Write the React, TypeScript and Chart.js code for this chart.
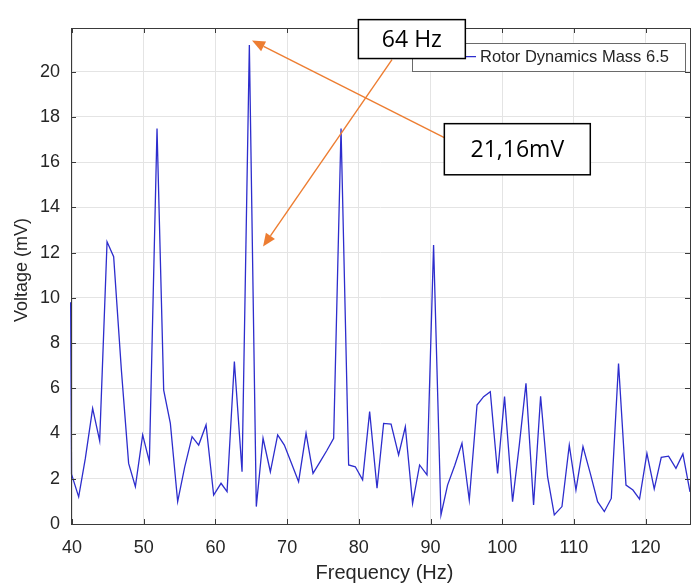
import React, { useEffect, useRef } from "react";
import { Chart, registerables } from "chart.js";
Chart.register(...registerables);

// ---- data ----
const frequencyHz = [
  39.8, 39.92, 40.92, 41.85, 42.87, 43.85, 44.88, 45.8, 46.88, 47.89,
  48.83, 49.85, 50.78, 51.85, 52.78, 53.71, 54.73, 55.7, 56.74, 57.66,
  58.69, 59.75, 60.78, 61.62, 62.64, 63.71, 64.73, 65.7, 66.64, 67.66,
  68.68, 69.61, 70.59, 71.6, 72.64, 73.61, 74.59, 75.54, 76.49, 77.52,
  78.58, 79.51, 80.53, 81.51, 82.54, 83.46, 84.5, 85.55, 86.49, 87.5,
  88.48, 89.51, 90.43, 91.46, 92.38, 93.39, 94.39, 95.41, 96.49, 97.41,
  98.34, 99.36, 100.33, 101.45, 102.39, 103.32, 104.38, 105.36, 106.33, 107.27,
  108.34, 109.36, 110.29, 111.27, 112.29, 113.31, 114.25, 115.22, 116.23, 117.27,
  118.24, 119.16, 120.19, 121.21, 122.19, 123.21, 124.24, 125.21, 126.2,
];
const voltageMv = [
  9.8, 2.2, 1.2, 2.9, 5.11, 3.68, 12.48, 11.82, 6.8, 2.68,
  1.65, 3.94, 2.76, 17.49, 5.92, 4.45, 0.99, 2.5, 3.86, 3.49,
  4.38, 1.28, 1.8, 1.43, 7.18, 2.31, 21.18, 0.77, 3.79, 2.31,
  3.94, 3.49, 2.7, 1.87, 4.01, 2.24, 2.75, 3.25, 3.79, 17.49,
  2.61, 2.53, 1.95, 4.97, 1.58, 4.45, 4.42, 3.05, 4.3, 0.91,
  2.61, 2.17, 12.34, 0.4, 1.72, 2.6, 3.57, 1.06, 5.26, 5.63,
  5.85, 2.24, 5.63, 0.99, 3.5, 6.22, 0.84, 5.65, 2.09, 0.4,
  0.77, 3.49, 1.5, 3.42, 2.24, 0.99, 0.55, 1.13, 7.1, 1.72,
  1.5, 1.1, 3.12, 1.55, 2.95, 3.0, 2.46, 3.1, 1.42,
];
const xTickValues = [40, 50, 60, 70, 80, 90, 100, 110, 120];
const yTickValues = [0, 2, 4, 6, 8, 10, 12, 14, 16, 18, 20];
const xRange = [39.85, 126.2];
const yRange = [0, 21.93];

const seriesLabel = "Rotor Dynamics Mass 6.5";
const xAxisTitle = "Frequency (Hz)";
const yAxisTitle = "Voltage (mV)";
const freqNote = "64 Hz";
const voltNote = "21,16mV";

// annotation anchors in data units [Hz, mV]
const freqNoteBox = [79.94, 22.3, 94.86, 20.58];
const voltNoteBox = [91.93, 17.7, 112.29, 15.44];
const legendBox = [87.42, 21.28, 125.54, 20.04];
const arrowVolt = [91.93, 17.08, 65.1, 21.38];
const arrowFreq = [84.63, 20.53, 66.64, 12.27];

const AXIS_FONT = '"Liberation Sans", Arial, sans-serif';
const NOTE_FONT = '"Open Sans", "Noto Sans", sans-serif';
const LINE_COLOR = "rgb(45,45,205)";
const ORANGE = "#ED7D31";

function drawArrow(ctx: CanvasRenderingContext2D, x1: number, y1: number, x2: number, y2: number) {
  const ang = Math.atan2(y2 - y1, x2 - x1);
  const len = 13;
  const hw = 5.5;
  const bx = x2 - len * Math.cos(ang);
  const by = y2 - len * Math.sin(ang);
  ctx.strokeStyle = ORANGE;
  ctx.fillStyle = ORANGE;
  ctx.lineWidth = 1.4;
  ctx.beginPath();
  ctx.moveTo(x1, y1);
  ctx.lineTo(bx, by);
  ctx.stroke();
  ctx.beginPath();
  ctx.moveTo(x2, y2);
  ctx.lineTo(bx + hw * Math.sin(ang), by - hw * Math.cos(ang));
  ctx.lineTo(bx - hw * Math.sin(ang), by + hw * Math.cos(ang));
  ctx.closePath();
  ctx.fill();
}

const decorPlugin = {
  id: "decor",
  afterDraw(chart: any) {
    const ctx: CanvasRenderingContext2D = chart.ctx;
    const a = chart.chartArea;
    const xs = chart.scales.x;
    const ys = chart.scales.y;
    const px = (v: number) => xs.getPixelForValue(v);
    const py = (v: number) => ys.getPixelForValue(v);
    ctx.save();

    // inward ticks + box
    ctx.strokeStyle = "#3a3a3a";
    ctx.lineWidth = 1;
    ctx.beginPath();
    xTickValues.forEach((v) => {
      const X = Math.round(px(v)) + 0.5;
      ctx.moveTo(X, a.bottom);
      ctx.lineTo(X, a.bottom - 5);
      ctx.moveTo(X, a.top);
      ctx.lineTo(X, a.top + 5);
    });
    yTickValues.forEach((v) => {
      const Y = Math.round(py(v)) + 0.5;
      ctx.moveTo(a.left, Y);
      ctx.lineTo(a.left + 5, Y);
      ctx.moveTo(a.right, Y);
      ctx.lineTo(a.right - 5, Y);
    });
    ctx.stroke();
    ctx.strokeRect(Math.round(a.left) + 0.5, Math.round(a.top) + 0.5, Math.round(a.right - a.left), Math.round(a.bottom - a.top));

    // axis titles
    ctx.fillStyle = "#262626";
    ctx.font = `20px ${AXIS_FONT}`;
    ctx.textAlign = "center";
    ctx.textBaseline = "middle";
    ctx.fillText(xAxisTitle, (a.left + a.right) / 2 + 4, 573);
    ctx.save();
    ctx.translate(22, (a.top + a.bottom) / 2 - 6);
    ctx.rotate(-Math.PI / 2);
    ctx.font = `18px ${AXIS_FONT}`;
    ctx.fillText(yAxisTitle, 0, 0);
    ctx.restore();

    // legend
    const lx1 = px(legendBox[0]), ly1 = py(legendBox[1]), lx2 = px(legendBox[2]), ly2 = py(legendBox[3]);
    ctx.fillStyle = "#ffffff";
    ctx.fillRect(lx1, ly1, lx2 - lx1, ly2 - ly1);
    ctx.strokeStyle = "#6a6a6a";
    ctx.lineWidth = 1;
    ctx.strokeRect(Math.round(lx1) + 0.5, Math.round(ly1) + 0.5, Math.round(lx2 - lx1), Math.round(ly2 - ly1));
    const lmid = (ly1 + ly2) / 2;
    ctx.strokeStyle = LINE_COLOR;
    ctx.lineWidth = 1.3;
    ctx.beginPath();
    ctx.moveTo(lx1 + 14, lmid);
    ctx.lineTo(lx1 + 64, lmid);
    ctx.stroke();
    ctx.fillStyle = "#262626";
    ctx.font = `16.5px ${AXIS_FONT}`;
    ctx.textAlign = "left";
    ctx.textBaseline = "middle";
    ctx.fillText(seriesLabel, lx1 + 68, lmid + 1);

    // arrows
    drawArrow(ctx, px(arrowVolt[0]), py(arrowVolt[1]), px(arrowVolt[2]), py(arrowVolt[3]));
    drawArrow(ctx, px(arrowFreq[0]), py(arrowFreq[1]), px(arrowFreq[2]), py(arrowFreq[3]));

    // note boxes
    const box = (b: number[], text: string) => {
      const x1 = px(b[0]), y1 = py(b[1]), x2 = px(b[2]), y2 = py(b[3]);
      ctx.fillStyle = "#ffffff";
      ctx.fillRect(x1, y1, x2 - x1, y2 - y1);
      ctx.strokeStyle = "#000000";
      ctx.lineWidth = 1.5;
      ctx.strokeRect(x1, y1, x2 - x1, y2 - y1);
      ctx.fillStyle = "#000000";
      ctx.font = `23px ${NOTE_FONT}`;
      ctx.textAlign = "center";
      ctx.textBaseline = "middle";
      ctx.fillText(text, (x1 + x2) / 2, (y1 + y2) / 2 + 1);
    };
    box(freqNoteBox, freqNote);
    box(voltNoteBox, voltNote);

    ctx.restore();
  },
};

export default function App() {
  const canvasRef = useRef<HTMLCanvasElement | null>(null);

  useEffect(() => {
    const canvas = canvasRef.current;
    if (!canvas) return;
    const points = frequencyHz.map((f, i) => ({ x: f, y: voltageMv[i] }));
    const tickFont = { family: AXIS_FONT, size: 18 };
    const chart = new Chart(canvas, {
      type: "line",
      data: {
        datasets: [
          {
            label: seriesLabel,
            data: points,
            borderColor: LINE_COLOR,
            borderWidth: 1.3,
            pointRadius: 0,
            tension: 0,
            fill: false,
            clip: false as any,
          },
        ],
      },
      options: {
        animation: false,
        responsive: false,
        devicePixelRatio: 1,
        layout: { padding: { top: 28, right: 2, left: 0, bottom: 0 } },
        plugins: { legend: { display: false }, tooltip: { enabled: false } },
        scales: {
          x: {
            type: "linear",
            min: xRange[0],
            max: xRange[1],
            afterBuildTicks: (s: any) => {
              s.ticks = xTickValues.map((v) => ({ value: v }));
            },
            afterFit: (s: any) => {
              s.height = 59;
            },
            grid: { color: "#e4e4e4", drawTicks: false, lineWidth: 1 },
            border: { display: false },
            ticks: {
              font: tickFont,
              color: "#262626",
              padding: 13,
              maxRotation: 0,
              autoSkip: false,
              callback: (v: any) => String(v),
            },
          },
          y: {
            type: "linear",
            min: yRange[0],
            max: yRange[1],
            afterBuildTicks: (s: any) => {
              s.ticks = yTickValues.map((v) => ({ value: v }));
            },
            afterFit: (s: any) => {
              s.width = 71;
            },
            grid: { color: "#e4e4e4", drawTicks: false, lineWidth: 1 },
            border: { display: false },
            ticks: {
              font: tickFont,
              color: "#262626",
              padding: 11,
              autoSkip: false,
              callback: (v: any) => String(v),
            },
          },
        },
      },
      plugins: [decorPlugin],
    });
    return () => chart.destroy();
  }, []);

  return (
    <div style={{ position: "fixed", left: 0, top: 0, width: 692, height: 583, background: "#ffffff" }}>
      <canvas ref={canvasRef} width={692} height={583} style={{ display: "block" }} />
    </div>
  );
}
